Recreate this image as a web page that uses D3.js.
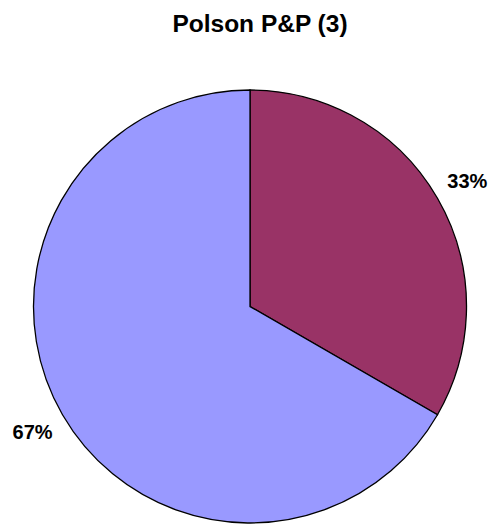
<!DOCTYPE html>
<html>
<head>
<meta charset="utf-8">
<script src="https://cdn.jsdelivr.net/npm/d3@7"></script>
<style>
  html, body { margin: 0; padding: 0; background: #fff; }
  svg { display: block; }
</style>
</head>
<body>
<svg id="chart" width="502" height="525"></svg>
<script>
const categories = ["A", "B"];
const values = [1, 2];
const labels = ["33%", "67%"];
const colors = ["#993366", "#9999FF"];
const title = "Polson P&P (3)";

const svg = d3.select("#chart");
const cx = 250, cy = 306.5, r = 216.5, labelR = 251;

svg.append("text")
  .attr("x", 260).attr("y", 32)
  .attr("text-anchor", "middle")
  .attr("font-family", "Arial, 'Liberation Sans', sans-serif")
  .attr("font-weight", "bold")
  .attr("font-size", 24.5)
  .text(title);

const pie = d3.pie().sort(null).value(d => d)(values);
const arc = d3.arc().innerRadius(0).outerRadius(r);
const g = svg.append("g").attr("transform", `translate(${cx},${cy})`);

g.selectAll("path").data(pie).join("path")
  .attr("d", arc)
  .attr("fill", (d, i) => colors[i])
  .attr("stroke", "#000")
  .attr("stroke-width", 1.3);

const labelArc = d3.arc().innerRadius(labelR).outerRadius(labelR);
g.selectAll("text.lbl").data(pie).join("text")
  .attr("class", "lbl")
  .attr("transform", d => `translate(${labelArc.centroid(d)})`)
  .attr("text-anchor", "middle")
  .attr("dy", "0.35em")
  .attr("font-family", "Arial, 'Liberation Sans', sans-serif")
  .attr("font-weight", "bold")
  .attr("font-size", 20)
  .text((d, i) => labels[i]);
</script>
</body>
</html>
